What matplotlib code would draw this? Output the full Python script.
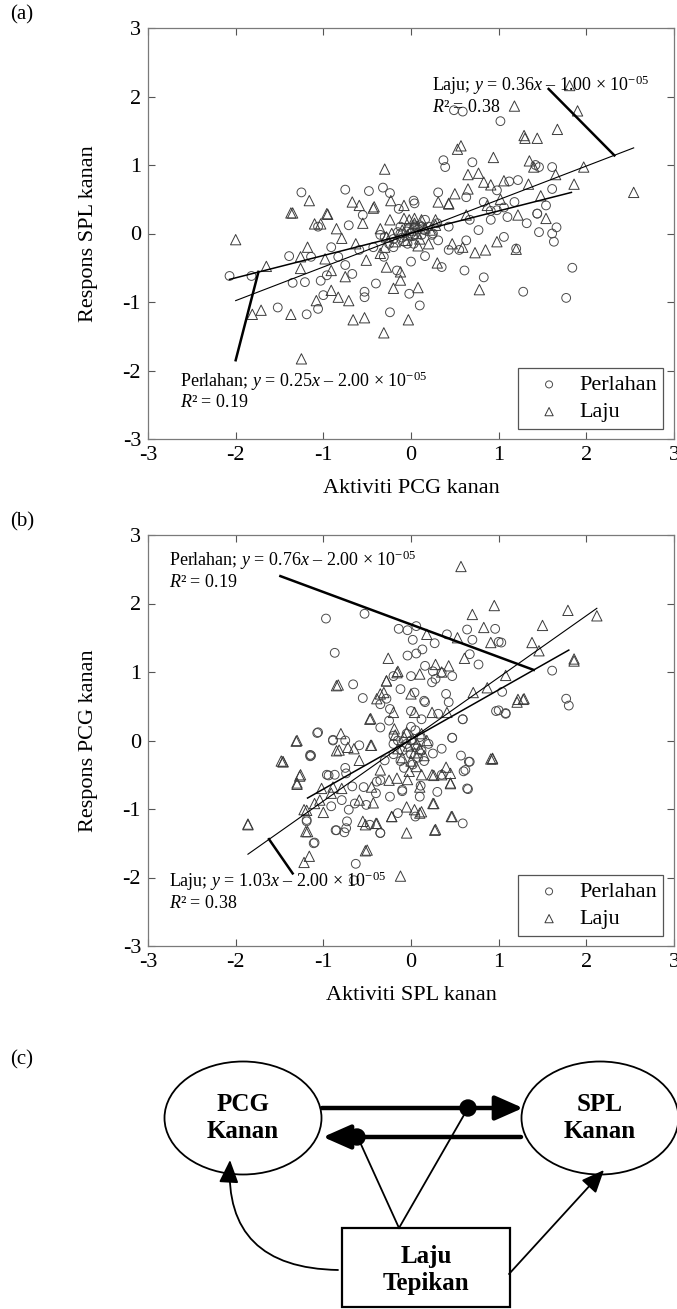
import numpy as np
import matplotlib.pyplot as plt
from matplotlib.patches import Ellipse, Rectangle, Circle, FancyArrowPatch
from matplotlib.path import Path

plt.rcParams['font.family'] = ['Liberation Serif', 'DejaVu Serif']
plt.rcParams['mathtext.fontset'] = 'custom'
plt.rcParams['mathtext.rm'] = 'Liberation Serif'
plt.rcParams['mathtext.it'] = 'Liberation Serif:italic'
plt.rcParams['axes.unicode_minus'] = False

# ---------------- data ----------------
# panel (a): Aktiviti PCG kanan vs Respons SPL kanan
a_perlahan = np.array([
    [0.49, 1.80], [0.59, 1.78], [1.02, 1.64], [0.37, 1.07], [0.39, 0.97], [0.70, 1.04],
    [1.42, 1.00], [1.46, 0.97], [1.61, 0.97], [1.61, 0.65], [1.12, 0.76], [1.22, 0.78],
    [1.54, 0.41], [1.44, 0.29], [0.98, 0.63], [0.31, 0.60], [-1.25, 0.60], [-0.75, 0.64],
    [-0.48, 0.62], [-0.32, 0.67], [-0.24, 0.59], [0.03, 0.48], [-0.14, 0.36], [0.83, 0.46],
    [0.63, 0.53], [1.06, 0.38], [1.18, 0.46], [0.91, 0.33],
    [-2.07, -0.62], [-1.82, -0.62], [-1.39, -0.33], [-1.35, -0.72], [-1.21, -0.71],
    [-1.52, -1.08], [-1.19, -1.18], [-1.06, -1.10], [-1.03, -0.69], [-0.96, -0.61],
    [-1.00, -0.90], [-0.83, -0.34], [-0.71, 0.12], [-0.75, -0.46], [-0.53, -0.93],
    [-0.53, -0.85], [-0.24, -1.15], [-0.40, -0.73], [-0.16, -0.54], [0.00, -0.41],
    [-0.02, -0.88], [0.10, -1.05], [0.16, -0.33], [0.31, -0.10], [0.43, -0.24],
    [0.61, -0.54], [0.83, -0.64], [1.28, -0.85], [1.77, -0.94], [1.84, -0.50],
    [1.63, -0.12], [1.61, 0.00], [1.66, 0.09], [1.46, 0.02], [1.44, 0.29], [1.32, 0.15],
    [1.20, -0.22], [1.06, -0.05], [0.91, 0.20], [0.77, 0.05], [0.63, -0.10], [0.55, -0.24],
    [0.43, 0.10], [0.24, -0.02], [0.12, 0.10], [-0.12, 0.00], [-0.35, -0.02], [-0.43, -0.20],
    [-0.59, -0.24], [-0.67, -0.59], [-0.91, -0.20], [-1.06, 0.10], [-1.14, -0.34],
    [-0.55, 0.27], [0.04, 0.44], [0.98, 0.34], [0.35, -0.49], [-0.31, -0.34], [-0.20, -0.20],
    [-0.04, -0.15], [0.04, 0.12], [0.16, 0.20], [0.67, 0.20], [1.10, 0.24],
    [-0.05, 0.03], [0.02, -0.04], [0.08, 0.06], [-0.10, -0.06], [0.00, 0.00], [0.05, 0.10],
    [-0.02, 0.08], [0.12, -0.02], [-0.15, 0.02], [0.10, 0.12], [-0.08, -0.12], [0.15, 0.05],
    [-0.20, -0.08], [0.20, 0.10], [0.03, -0.15], [-0.12, 0.10], [0.25, 0.00], [-0.25, -0.15],
    [0.30, 0.15], [-0.30, -0.05],
])
a_laju = np.array([
    [1.81, 2.16], [1.18, 1.86], [1.90, 1.79], [1.67, 1.52], [1.29, 1.43], [1.44, 1.39],
    [1.30, 1.39], [0.53, 1.23], [0.57, 1.28], [0.94, 1.11], [1.35, 1.06], [1.97, 0.97],
    [1.40, 0.97], [1.65, 0.86], [1.86, 0.72], [2.54, 0.60], [-0.30, 0.94], [0.65, 0.86],
    [0.77, 0.88], [0.83, 0.75], [0.91, 0.71], [1.06, 0.77], [1.34, 0.72], [1.48, 0.55],
    [0.50, 0.58], [0.65, 0.65], [-1.16, 0.48], [-0.67, 0.46], [-0.59, 0.41], [-0.43, 0.37],
    [-0.23, 0.48], [-0.08, 0.41], [-1.35, 0.30], [-0.96, 0.29], [0.31, 0.46], [0.43, 0.43],
    [1.02, 0.50],
    [-2.00, -0.09], [-1.65, -0.48], [-1.81, -1.18], [-1.71, -1.12], [-1.37, 0.30],
    [-1.37, -1.18], [-1.25, -1.83], [-1.10, 0.14], [-1.03, 0.14], [-0.95, 0.28],
    [-1.18, -0.20], [-1.26, -0.51], [-1.08, -0.98], [-0.91, -0.83], [-0.83, -0.93],
    [-0.71, -0.98], [-0.66, -1.26], [-0.53, -1.23], [-0.31, -1.45], [-0.03, -1.26],
    [-0.20, -0.80], [0.08, -0.79], [-0.42, 0.39], [-0.55, 0.15], [-0.79, -0.07],
    [-0.85, 0.07], [-0.63, -0.15], [-0.51, -0.39], [-0.35, -0.29], [-0.28, -0.49],
    [-0.12, -0.56], [-0.12, -0.68], [-0.08, 0.22], [-0.24, 0.20], [0.04, 0.22],
    [0.30, -0.43], [0.59, -0.20], [0.73, -0.28], [0.85, -0.24], [0.78, -0.82], [0.98, -0.12],
    [1.20, -0.23], [1.22, 0.27], [1.54, 0.22], [0.87, 0.41], [0.63, 0.27], [0.43, 0.44],
    [0.47, -0.15], [0.20, -0.15], [0.28, 0.20], [-0.28, -0.05], [-0.35, 0.07],
    [-0.98, -0.37], [-0.91, -0.54], [-0.75, -0.63], [-1.26, -0.34],
    [0.00, 0.05], [-0.04, -0.02], [0.06, 0.00], [0.10, -0.08], [-0.10, 0.05], [0.04, 0.15],
    [-0.06, -0.10], [0.16, 0.08], [-0.18, -0.12], [0.22, 0.05], [-0.22, 0.00], [0.08, -0.18],
    [-0.02, 0.20], [0.28, 0.12], [-0.30, -0.20], [0.12, 0.20],
])
a_fit_perlahan = [[-2.07, 1.83], [-0.67, 0.60]]
a_fit_laju = [[-2.00, 2.54], [-0.98, 1.25]]
a_eq_perlahan = ['Perlahan; $y$ = 0.25$x$ \u2013 2.00 \u00d7 10$^{\\mathrm{-05}}$', '$R$\u00b2 = 0.19']
a_eq_laju = ['Laju; $y$ = 0.36$x$ \u2013 1.00 \u00d7 10$^{\\mathrm{-05}}$', '$R$\u00b2 = 0.38']

# panel (b): Aktiviti SPL kanan vs Respons PCG kanan
b_perlahan = np.array([
    [-0.97, 1.78], [-0.53, 1.85], [-0.87, 1.28], [-0.14, 1.63], [-0.04, 1.61], [0.06, 1.67],
    [0.02, 1.47], [0.27, 1.42], [0.41, 1.55], [0.64, 1.62], [0.70, 1.47], [0.96, 1.63],
    [1.00, 1.44], [1.03, 1.43], [-0.04, 1.24], [0.06, 1.27], [0.13, 1.33], [0.67, 1.26],
    [0.77, 1.11], [1.61, 1.02], [1.77, 0.61], [1.80, 0.51], [1.00, 0.44], [1.08, 0.39],
    [1.04, 0.71], [-0.66, 0.82], [-0.55, 0.62], [-0.35, 0.53], [-0.24, 0.46], [-0.12, 0.75],
    [0.04, 0.70], [0.16, 0.56], [0.31, 0.39], [0.43, 0.56], [0.59, 0.31], [0.47, 0.04],
    [0.57, -0.22], [0.67, -0.31], [0.35, -0.12], [-1.07, 0.11], [-1.14, -0.22], [-0.89, 0.01],
    [-0.75, 0.00], [-0.59, -0.07], [-0.35, 0.19], [-0.20, 0.07], [0.28, 0.90], [0.35, 0.99],
    [0.47, 0.94], [0.16, 1.09], [0.24, 0.85], [0.00, 0.94], [-0.20, 0.94], [-0.28, 0.61],
    [0.12, 0.31],
    [-1.06, 0.12], [-0.89, 0.00], [-1.15, -0.23], [-0.94, -0.51], [-0.74, -0.48],
    [0.47, 0.04], [0.59, 0.31], [0.62, -0.43], [0.64, -0.70], [0.59, -1.21],
    [0.97, 0.43], [1.08, 0.40], [-1.19, -1.18], [-1.10, -1.49], [-0.85, -1.31], [-0.74, -1.28],
    [-0.35, -1.35], [-0.47, -1.23], [-0.64, -0.92], [-0.79, -0.87], [-0.40, -0.77],
    [-0.10, -0.72], [0.10, -0.82], [0.30, -0.75], [-0.30, -0.29], [-0.20, -0.05],
    [0.25, -0.19], [0.00, 0.43], [-0.25, 0.29], [0.15, 0.58], [0.40, 0.68], [0.25, 1.01],
    [-0.35, -0.58], [-0.54, -0.68], [-0.15, -1.06], [0.05, -1.11],
    [-1.15, -0.21], [-0.96, -0.50], [-0.87, -0.50], [-0.75, -0.40], [-0.91, -0.96],
    [-1.19, -1.16], [-1.11, -1.50], [-0.86, -1.31], [-0.76, -1.34], [-0.73, -1.18],
    [-0.71, -1.01], [-0.63, -1.80], [-0.65, -2.04], [-0.35, -1.35], [-0.51, -0.94],
    [-0.10, -0.74], [0.11, -0.66], [0.65, -0.71], [0.60, -0.45], [0.66, -0.31],
    [0.35, -0.50], [-0.39, -0.60], [-0.24, -0.82], [-0.67, -0.67],
    [0.00, 0.00], [-0.05, -0.05], [0.05, -0.10], [-0.10, -0.15], [0.10, 0.05], [0.00, -0.20],
    [-0.05, 0.10], [0.08, -0.25], [-0.12, -0.30], [0.02, -0.35], [0.12, -0.15], [-0.15, 0.00],
    [0.05, 0.15], [-0.08, -0.40], [0.15, -0.30], [0.00, 0.20], [-0.20, -0.20], [0.20, -0.05],
])
b_laju = np.array([
    [0.57, 2.54], [0.95, 1.97], [0.70, 1.84], [1.79, 1.90], [2.12, 1.82], [1.50, 1.68],
    [0.83, 1.65], [0.18, 1.55], [0.53, 1.50], [1.38, 1.43], [1.46, 1.31], [0.91, 1.43],
    [1.86, 1.19], [0.61, 1.20], [-0.26, 1.20], [-0.16, 0.99], [-0.28, 0.87], [-0.85, 0.80],
    [1.08, 0.95], [0.87, 0.77], [1.22, 0.60], [1.29, 0.61], [0.71, 0.70], [-0.31, 0.70],
    [-0.39, 0.61], [-0.46, 0.32], [-0.20, 0.41], [0.04, 0.41], [0.24, 0.41], [0.41, 0.41],
    [-1.31, -0.01], [-0.80, 0.10], [-0.85, -0.15], [-0.65, -0.12], [-0.46, -0.07],
    [-1.46, -0.31], [0.91, -0.27], [0.35, 1.00], [0.43, 1.09], [0.28, 1.11],
    [-1.86, -1.22], [-1.48, -0.30], [-1.30, 0.00], [-1.27, -0.52], [-1.30, -0.64],
    [-0.83, 0.81], [-0.82, -0.14], [-0.72, -0.10], [-1.19, -1.02], [-1.00, -1.05],
    [-1.18, -1.33], [-1.04, -0.87], [-0.89, -0.68], [-0.79, -0.70], [-0.59, -0.29],
    [-0.45, -0.07], [-0.47, 0.31], [-0.28, 0.87], [-0.35, 0.68], [-0.19, 0.17],
    [-0.15, 1.01], [0.00, 0.68], [0.10, 0.97], [0.27, -1.31], [0.47, -1.11], [0.45, -0.48],
    [0.40, -0.39], [0.45, -0.63], [0.26, -0.51], [0.93, -0.27], [1.21, 0.56], [1.28, 0.60],
    [1.86, 1.16], [0.10, -1.06], [-0.05, -0.97], [-0.22, -1.11], [-0.40, -1.21],
    [-0.52, -1.23], [-0.50, -1.60], [-0.05, -1.35], [0.25, -0.92], [0.10, -0.68],
    [-0.25, -0.58], [-0.45, -0.68], [-0.59, -0.87],
    [-1.46, -0.31], [-1.26, -0.50], [-1.30, -0.62], [-1.86, -1.23], [-1.22, -1.01],
    [-1.20, -1.33], [-1.16, -1.69], [-1.22, -1.78], [-0.52, -1.61], [-0.12, -1.98],
    [0.93, -0.26], [0.28, -1.30], [0.46, -1.11], [0.26, -0.92], [0.12, -1.04],
    [0.04, -1.01], [-0.22, -1.11], [-0.55, -1.18], [-0.43, -0.91], [-0.39, -1.21],
    [0.24, -0.50], [0.35, -0.50], [0.45, -0.62], [0.12, -0.50], [-0.04, -0.57],
    [-0.16, -0.55], [-0.35, -0.43], [-1.02, -0.70], [-0.91, -0.77], [-1.10, -0.92],
    [0.02, 0.02], [-0.03, -0.08], [0.07, -0.05], [-0.08, 0.05], [0.04, -0.18], [-0.10, -0.25],
    [0.10, -0.12], [0.00, -0.30], [-0.05, 0.12], [0.12, 0.10], [-0.15, -0.12], [0.06, -0.38],
    [-0.02, -0.45], [0.15, -0.22], [-0.18, 0.08], [0.18, 0.00],
])
b_fit_perlahan = [[-1.18, 1.80], [-0.84, 1.32]]
b_fit_laju = [[-1.86, 2.12], [-1.66, 1.93]]
b_eq_perlahan = ['Perlahan; $y$ = 0.76$x$ \u2013 2.00 \u00d7 10$^{\\mathrm{-05}}$', '$R$\u00b2 = 0.19']
b_eq_laju = ['Laju; $y$ = 1.03$x$ \u2013 2.00 \u00d7 10$^{\\mathrm{-05}}$', '$R$\u00b2 = 0.38']

series_names = ['Perlahan', 'Laju']
ticks = [-3, -2, -1, 0, 1, 2, 3]

# panel (c): diagram nodes
node_labels = ['PCG\nKanan', 'SPL\nKanan', 'Laju\nTepikan']

# ---------------- figure ----------------
W, H = 677, 1309
fig = plt.figure(figsize=(W / 100, H / 100), dpi=100)

# diagram axes in pixel coordinates (drawn first, underneath)
axc = fig.add_axes([0, 0, 1, 1])
axc.set_xlim(0, W)
axc.set_ylim(H, 0)
axc.axis('off')


def panel(rect, perl, laju, fit_p, fit_l, lead_p, lead_l, eq_p, eq_l, pos_p, pos_l,
          xlabel, ylabel):
    ax = fig.add_axes(rect)
    ax.scatter(perl[:, 0], perl[:, 1], s=40, marker='o', facecolors='none',
               edgecolors='#4a4a4a', linewidths=0.7, label=series_names[0])
    ax.scatter(laju[:, 0], laju[:, 1], s=55, marker='^', facecolors='none',
               edgecolors='#3a3a3a', linewidths=0.7, label=series_names[1])
    ax.plot(fit_p[0], fit_p[1], color='black', lw=1.1)
    ax.plot(fit_l[0], fit_l[1], color='black', lw=0.8)
    ax.plot(lead_p[0], lead_p[1], color='black', lw=1.8)
    ax.plot(lead_l[0], lead_l[1], color='black', lw=1.8)
    ax.text(pos_p[0], pos_p[1], eq_p[0] + '\n' + eq_p[1], fontsize=13, va='top',
            linespacing=1.15)
    ax.text(pos_l[0], pos_l[1], eq_l[0] + '\n' + eq_l[1], fontsize=13, va='top',
            linespacing=1.15)
    ax.set_xlim(-3, 3)
    ax.set_ylim(-3, 3)
    ax.set_xticks(ticks)
    ax.set_yticks(ticks)
    ax.tick_params(direction='in', top=True, right=True, labelsize=16, length=5,
                   color='#555555', width=0.8, pad=5)
    for s in ax.spines.values():
        s.set_color('#7a7a7a')
        s.set_linewidth(0.9)
    ax.set_xlabel(xlabel, fontsize=16, labelpad=10)
    ax.set_ylabel(ylabel, fontsize=16, labelpad=18)
    leg = ax.legend(loc='lower right', bbox_to_anchor=(0.98, 0.024), borderaxespad=0,
                    fontsize=16, fancybox=False, edgecolor='#555555', framealpha=1,
                    handletextpad=0.25, borderpad=0.3, labelspacing=0.3,
                    handlelength=2.2, markerscale=0.8)
    leg.get_frame().set_linewidth(0.9)
    return ax


ax_a = panel([148 / W, 1 - 439 / H, 526 / W, 411 / H], a_perlahan, a_laju,
             a_fit_perlahan, a_fit_laju,
             [[-2.00, -1.74], [-1.85, -0.56]], [[1.57, 2.32], [2.11, 1.14]],
             a_eq_perlahan, a_eq_laju, (-2.63, -1.98), (0.24, 2.34),
             'Aktiviti PCG kanan', 'Respons SPL kanan')
ax_b = panel([148 / W, 1 - 946 / H, 526 / W, 411 / H], b_perlahan, b_laju,
             b_fit_perlahan, b_fit_laju,
             [[-1.49, 1.40], [2.40, 1.03]], [[-1.62, -1.35], [-1.44, -1.94]],
             b_eq_perlahan, b_eq_laju, (-2.76, 2.80), (-2.76, -1.89),
             'Aktiviti SPL kanan', 'Respons PCG kanan')

for lab, y in zip(['(a)', '(b)', '(c)'], [15, 522, 1060]):
    fig.text(10 / W, 1 - y / H, lab, fontsize=15, va='center', ha='left')

# ---------------- diagram (c) ----------------
lw_thin = 1.3
for (cx, cy), lab in zip([(243, 1118), (600, 1118)], node_labels[:2]):
    axc.add_patch(Ellipse((cx, cy), 157, 113, fill=False, lw=lw_thin, ec='black'))
    axc.text(cx, cy, lab, fontsize=18, fontweight='bold', ha='center', va='center',
             linespacing=1.2)
axc.add_patch(Rectangle((342, 1228), 168, 79, fill=False, lw=1.6, ec='black'))
axc.text(426, 1270, node_labels[2], fontsize=18, fontweight='bold', ha='center',
         va='center', linespacing=1.25)

big = '-|>,head_length=17,head_width=7.5'
axc.add_patch(FancyArrowPatch((322, 1108), (523, 1108), arrowstyle=big, mutation_scale=1,
                              lw=3.2, color='black', shrinkA=0, shrinkB=0))
axc.add_patch(FancyArrowPatch((521, 1137), (323, 1137), arrowstyle=big, mutation_scale=1,
                              lw=3.2, color='black', shrinkA=0, shrinkB=0))
axc.add_patch(Circle((468, 1108), 8, color='black'))
axc.add_patch(Circle((357, 1137), 8, color='black'))
axc.plot([399, 468], [1228, 1108], color='black', lw=lw_thin)
axc.plot([399, 359], [1228, 1140], color='black', lw=lw_thin)

small = '-|>,head_length=14,head_width=6'
curve = Path([(338, 1270), (224, 1268), (230, 1160)], [Path.MOVETO, Path.CURVE3, Path.CURVE3])
axc.add_patch(FancyArrowPatch(path=curve, arrowstyle=small, mutation_scale=1, lw=lw_thin,
                              color='black'))
axc.add_patch(FancyArrowPatch((509, 1274), (604, 1170), arrowstyle=small, mutation_scale=1,
                              lw=lw_thin, color='black', shrinkA=0, shrinkB=0))

fig.savefig('out.png', dpi=100)
